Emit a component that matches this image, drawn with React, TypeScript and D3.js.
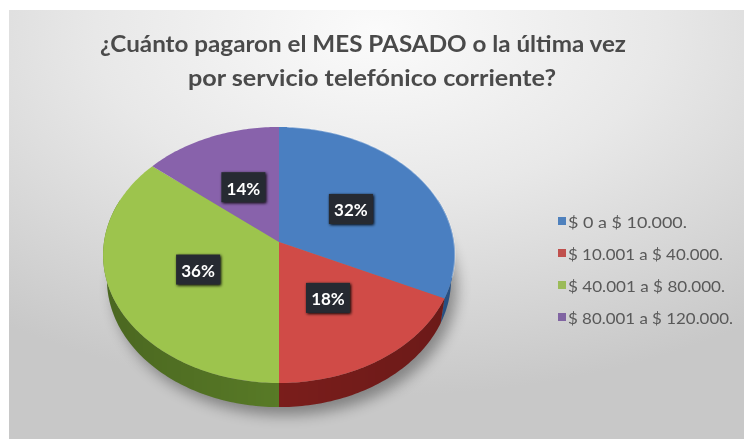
import React from 'react';
import * as d3 from 'd3';

const titleLines = ['¿Cuánto pagaron el MES PASADO o la última vez', 'por servicio telefónico corriente?'];
const categories = ['$ 0 a $ 10.000.', '$ 10.001 a $ 40.000.', '$ 40.001 a $ 80.000.', '$ 80.001 a $ 120.000.'];
const values = [32, 18, 36, 14];
const labels = ['32%', '18%', '36%', '14%'];
const topColors = ['#4a7fc1', '#d04b47', '#9dc44d', '#8862ab'];
const sideColors = ['#2c5a93', '#7a1d1b', '#587a26', '#4e3870'];
const legendColors = ['#4f81bd', '#c0504d', '#9bbb59', '#8064a2'];
const legendWidths = [121, 157, 159, 167];

// projection of the tilted disk with perspective
const CX = 279, CY = 242, S = 175, COS = 0.724, SIN = 0.69, INVD = 0.1468, THICK = 0.21;
function proj(u: number, v: number, depth: number): [number, number] {
  const X = u;
  const Y = v * COS - depth * THICK * SIN;
  const Z = v * SIN + depth * THICK * COS;
  const w = 1 + Z * INVD;
  return [CX + (S * X) / w, CY - (S * Y) / w];
}

export default function App() {
  const W = 744, H = 439;
  const arcs = d3.pie<number>().sort(null).startAngle(0).endAngle(2 * Math.PI)(values);
  const line = d3.line<[number, number]>();
  const arcPts = (a0: number, a1: number, depth: number, r = 1) => {
    const n = Math.max(2, Math.ceil((a1 - a0) / (Math.PI / 180)));
    return d3.range(n + 1).map((i) => {
      const a = a0 + ((a1 - a0) * i) / n;
      return proj(r * Math.sin(a), r * Math.cos(a), depth);
    });
  };
  const lo = Math.PI / 2 - 0.35, hi = (3 * Math.PI) / 2 + 0.35;
  const walls = arcs
    .map((a, i) => {
      const a0 = Math.max(a.startAngle, lo), a1 = Math.min(a.endAngle, hi);
      if (a1 <= a0) return null;
      const pts = [...arcPts(a0, a1, 0), ...arcPts(a0, a1, 1).reverse()];
      return { i, d: line(pts) + 'Z' };
    })
    .filter(Boolean) as { i: number; d: string }[];
  const tops = arcs.map((a, i) => ({
    i,
    d: line([proj(0, 0, 0), ...arcPts(a.startAngle, a.endAngle, 0)]) + 'Z',
  }));
  const shadowD = line(arcPts(0, 2 * Math.PI, 1)) + 'Z';
  const labelPos = arcs.map((a) => {
    const m = (a.startAngle + a.endAngle) / 2;
    return proj(0.5 * Math.sin(m), 0.5 * Math.cos(m), 0);
  });
  const legendY = d3.scalePoint<number>().domain(d3.range(categories.length)).range([221, 317]);

  return (
    <svg width={W} height={H} style={{ position: 'absolute', left: 0, top: 0, background: '#fff' }}>
      <defs>
        <radialGradient id="bg" cx="50%" cy="5%" r="85%" fx="50%" fy="5%">
          <stop offset="0" stopColor="#fbfbfb" />
          <stop offset="0.45" stopColor="#e8e8e8" />
          <stop offset="1" stopColor="#c8c8c8" />
        </radialGradient>
        <filter id="blur" x="-30%" y="-30%" width="160%" height="160%">
          <feGaussianBlur stdDeviation="7" />
        </filter>
        <filter id="lblshadow" x="-40%" y="-40%" width="180%" height="180%">
          <feGaussianBlur in="SourceAlpha" stdDeviation="1.5" />
          <feOffset dx="1" dy="1" result="b" />
          <feMerge>
            <feMergeNode in="b" />
            <feMergeNode in="SourceGraphic" />
          </feMerge>
        </filter>
        <linearGradient id="wallShade" x1="0" x2="1" y1="0" y2="0">
          <stop offset="0" stopColor="#000" stopOpacity="0.25" />
          <stop offset="0.5" stopColor="#000" stopOpacity="0" />
          <stop offset="1" stopColor="#000" stopOpacity="0.2" />
        </linearGradient>
      </defs>
      <rect x={9} y={10} width={W - 9} height={H - 10} fill="url(#bg)" />
      {titleLines.map((t, i) => (
        <text
          key={i}
          x={363 + (i === 1 ? 9 : 0)}
          y={i === 0 ? 52 : 86}
          textAnchor="middle"
          fontFamily="Lato, 'Open Sans', sans-serif"
          fontWeight={700}
          fontSize={23}
          fill="#4a4a4a"
          textLength={i === 0 ? 526 : 368}
          lengthAdjust="spacingAndGlyphs"
        >
          {t}
        </text>
      ))}
      <path d={shadowD} transform="translate(6,8)" fill="#000" opacity={0.35} filter="url(#blur)" />
      {walls.map((w) => (
        <path key={'w' + w.i} d={w.d} fill={sideColors[w.i]} />
      ))}
      <path d={shadowD} fill="url(#wallShade)" opacity={0.6} style={{ mixBlendMode: 'multiply' }} />
      {tops.map((t) => (
        <path key={'t' + t.i} d={t.d} fill={topColors[t.i]} />
      ))}
      <path
        d={line(arcPts(0.05, Math.PI / 1.7, 0)) || ''}
        fill="none"
        stroke="#fff"
        strokeOpacity={0.35}
        strokeWidth={1.5}
      />
      {labelPos.map(([x, y], i) => (
        <g key={'l' + i}>
          <rect x={x - 22} y={y - 15} width={44} height={30} fill="#262b30" filter="url(#lblshadow)" />
          <text
            x={x}
            y={y + 1}
            textAnchor="middle"
            dominantBaseline="central"
            fontFamily="Lato, sans-serif"
            fontWeight={700}
            fontSize={17}
            fill="#fff"
          >
            {labels[i]}
          </text>
        </g>
      ))}
      {categories.map((c, i) => (
        <g key={'g' + i}>
          <rect x={558} y={legendY(i)! - 4} width={8} height={8} fill={legendColors[i]} />
          <text
            x={568}
            y={legendY(i)!}
            dominantBaseline="central"
            fontFamily="Lato, sans-serif"
            fontSize={16}
            fill="#595959"
            textLength={legendWidths[i] - 2}
            lengthAdjust="spacingAndGlyphs"
          >
            {c}
          </text>
        </g>
      ))}
    </svg>
  );
}
